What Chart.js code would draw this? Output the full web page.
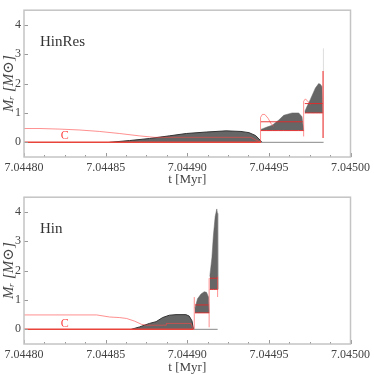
<!DOCTYPE html>
<html><head><meta charset="utf-8">
<script src="https://cdn.jsdelivr.net/npm/chart.js@4/dist/chart.umd.min.js"></script>
<style>html,body{margin:0;padding:0;background:#fff;overflow:hidden}canvas{display:block}</style>
</head><body>
<canvas id="c1" width="374" height="187"></canvas>
<canvas id="c2" width="374" height="188"></canvas>
<script>
// ---- axes ----
const xTicks = [7.04480, 7.04485, 7.04490, 7.04495, 7.04500];
const yTicks = [0, 1, 2, 3, 4];
const panelNames = ['HinRes', 'Hin'];
const zoneLabel = 'C';

// ---- top panel (HinRes) ----
const resCT = [7.0448000, 7.0448098, 7.0448220, 7.0448341, 7.0448463, 7.0448585, 7.0448707, 7.0448799, 7.0448900, 7.0448994, 7.0449200, 7.0449390, 7.0449420, 7.0449451];
const resCM = [0.47, 0.47, 0.45, 0.42, 0.37, 0.30, 0.22, 0.17, 0.17, 0.17, 0.17, 0.17, 0.08, 0.0];
const resBaseT = [7.0448000, 7.0449451];
const resBaseM = [0, 0];
const resTailT = [7.0449451, 7.0449835];
const resTailM = [0, 0];
const resZ1T = [7.0448524, 7.0448646, 7.0448768, 7.0448890, 7.0448994, 7.0449116, 7.0449238, 7.0449329, 7.0449378, 7.0449419, 7.0449449, 7.0449457];
const resZ1Top = [0, 0.06, 0.13, 0.22, 0.30, 0.35, 0.39, 0.37, 0.33, 0.23, 0.06, 0];
const resZ2T = [7.0449451, 7.0449488, 7.0449520, 7.0449561, 7.0449591, 7.0449642, 7.0449683, 7.0449703, 7.0449713];
const resZ2Top = [0.44, 0.52, 0.58, 0.76, 0.92, 1.0, 1.0, 0.87, 0.40];
const resZ2Bot = [0.40, 0.40, 0.40, 0.40, 0.40, 0.40, 0.40, 0.40, 0.40];
const resZ2MidT = [7.0449451, 7.0449707];
const resZ2MidM = [0.70, 0.70];
const resBump2T = [7.0449449, 7.0449449, 7.0449460, 7.0449475, 7.0449495, 7.0449515, 7.0449530];
const resBump2M = [0, 0.85, 0.95, 0.95, 0.82, 0.62, 0.55];
const resBump3T = [7.0449713, 7.0449713, 7.0449724, 7.0449744, 7.0449756];
const resBump3M = [0.2, 1.40, 1.48, 1.36, 1.30];
const resZ3T = [7.0449720, 7.0449732, 7.0449754, 7.0449785, 7.0449805, 7.0449815, 7.0449825, 7.0449829];
const resZ3Top = [1.05, 1.2, 1.46, 1.85, 2.0, 1.98, 1.9, 1.0];
const resZ3Bot = [1.0, 1.0, 1.0, 1.0, 1.0, 1.0, 1.0, 1.0];
const resZ3MidT = [7.0449720, 7.0449829];
const resZ3MidM = [1.32, 1.32];
const resEdgeT = [7.0449832, 7.0449832];
const resEdgeM = [0.15, 2.43];
const resFaintT = [7.0449834, 7.0449834];
const resFaintM = [2.43, 3.2];

// ---- bottom panel (Hin) ----
const hinCT = [7.0448000, 7.0448445, 7.0448524, 7.0448585, 7.0448628, 7.0448677, 7.0448720, 7.0448750, 7.0448872, 7.0448872, 7.0449024, 7.0449037];
const hinCM = [0.49, 0.49, 0.42, 0.40, 0.37, 0.28, 0.17, 0.14, 0.14, 0.20, 0.20, 0];
const hinBaseT = [7.0448000, 7.0449038];
const hinBaseM = [0, 0];
const hinTailT = [7.0449038, 7.0449186];
const hinTailM = [0, 0];
const hinZ1T = [7.0448657, 7.0448707, 7.0448768, 7.0448809, 7.0448849, 7.0448890, 7.0448931, 7.0448992, 7.0449012, 7.0449029, 7.0449038];
const hinZ1Top = [0, 0.08, 0.20, 0.26, 0.40, 0.48, 0.50, 0.50, 0.45, 0.29, 0];
const hinZ2T = [7.0449047, 7.0449063, 7.0449084, 7.0449104, 7.0449118, 7.0449130, 7.0449134];
const hinZ2Top = [0.72, 1.04, 1.20, 1.28, 1.26, 1.10, 0.56];
const hinZ2Bot = [0.56, 0.56, 0.56, 0.56, 0.56, 0.56, 0.56];
const hinZ2MidT = [7.0449047, 7.0449130];
const hinZ2MidM = [0.83, 0.83];
const hinRise2T = [7.0449043, 7.0449043];
const hinRise2M = [0, 1.1];
const hinRise3T = [7.0449134, 7.0449134];
const hinRise3M = [0.07, 1.74];
const hinZ3T = [7.0449138, 7.0449151, 7.0449160, 7.0449171, 7.0449181, 7.0449185, 7.0449187];
const hinZ3Top = [1.80, 2.44, 3.19, 3.84, 4.10, 3.95, 1.36];
const hinZ3Bot = [1.36, 1.36, 1.36, 1.36, 1.36, 1.36, 1.36];
const hinZ3MidT = [7.0449138, 7.0449185];
const hinZ3MidM = [1.74, 1.74];
const hinEdgeT = [7.0449186, 7.0449186];
const hinEdgeM = [1.1, 1.8];

// ---- styling helpers ----
const RED = 'rgba(232,40,40,0.9)';
const PINK = 'rgba(255,70,70,0.6)';
const GRAY = '#666666';
const FONT = "'Liberation Serif', 'DejaVu Serif', serif";

function pts(t, m) { return t.map((v, i) => ({x: v, y: m[i]})); }
function line(t, m, color, width) {
  return {data: pts(t, m), showLine: true, borderColor: color, borderWidth: width, pointRadius: 0, fill: false};
}
function zone(t, m, target, border) {
  return {data: pts(t, m), showLine: true, borderColor: border || GRAY, borderWidth: border ? 1 : 0.5,
          backgroundColor: GRAY, pointRadius: 0, fill: target};
}
function hidden(t, m) {
  return {data: pts(t, m), showLine: true, borderWidth: 0, borderColor: 'rgba(0,0,0,0)', pointRadius: 0, fill: false};
}

const frame = {
  id: 'frame',
  afterDatasetsDraw(chart) {
    const {ctx, chartArea: a, scales: {x, y}} = chart;
    ctx.save();
    ctx.strokeStyle = '#999'; ctx.lineWidth = 1;
    xTicks.forEach(v => {
      const p = Math.round(x.getPixelForValue(v)) + 0.5;
      ctx.beginPath(); ctx.moveTo(p, a.bottom); ctx.lineTo(p, a.bottom - 4); ctx.stroke();
    });
    for (let i = 0; i < xTicks.length - 1; i++) {
      for (let k = 1; k < 4; k++) {
        const v = xTicks[i] + (xTicks[i + 1] - xTicks[i]) * k / 4;
        const p = Math.round(x.getPixelForValue(v)) + 0.5;
        ctx.beginPath(); ctx.moveTo(p, a.bottom); ctx.lineTo(p, a.bottom - 2); ctx.stroke();
      }
    }
    yTicks.forEach(v => {
      const p = Math.round(y.getPixelForValue(v)) + 0.5;
      ctx.beginPath(); ctx.moveTo(a.left, p); ctx.lineTo(a.left + 4, p); ctx.stroke();
    });
    ctx.strokeStyle = '#c4c4c4'; ctx.lineWidth = 1.5;
    ctx.strokeRect(a.left, a.top, a.right - a.left, a.bottom - a.top);
    const o = chart.options.plugins.panelText;
    ctx.fillStyle = '#333';
    ctx.font = '15px ' + FONT;
    ctx.textBaseline = 'middle'; ctx.textAlign = 'left';
    ctx.fillText(o.name, x.getPixelForValue(7.0448098), y.getPixelForValue(3.42));
    ctx.fillStyle = '#ff4040';
    ctx.font = '12px ' + FONT;
    ctx.textAlign = 'center';
    ctx.fillText(zoneLabel, x.getPixelForValue(7.044825), y.getPixelForValue(o.cy));
    ctx.restore();
  }
};

function makePanel(id, datasets, name, cy, xh) {
  return new Chart(document.getElementById(id), {
    type: 'scatter',
    data: {datasets},
    plugins: [frame],
    options: {
      responsive: false, animation: false,
      layout: {padding: {top: 2, right: 22, left: 0, bottom: 0}},
      plugins: {legend: {display: false}, tooltip: {enabled: false}, panelText: {name, cy}},
      scales: {
        x: {
          type: 'linear', min: 7.0448, max: 7.045,
          afterBuildTicks: s => { s.ticks = xTicks.map(v => ({value: v})); },
          afterFit: s => { s.height = xh; },
          grid: {display: false, drawTicks: false}, border: {display: false},
          ticks: {padding: 4, color: '#444', font: {family: FONT, size: 12}, maxRotation: 0,
                  callback: v => Number(v).toFixed(5)},
          title: {display: true, text: 't [Myr]', color: '#444', padding: 0, font: {family: FONT, size: 13}}
        },
        y: {
          type: 'linear', min: -0.5, max: 4.5,
          afterBuildTicks: s => { s.ticks = yTicks.map(v => ({value: v})); },
          afterFit: s => { s.width = 24; },
          grid: {display: false, drawTicks: false}, border: {display: false},
          ticks: {padding: 3, color: '#444', font: {family: FONT, size: 12}},
          title: {display: true, text: 'Mᵣ [M⊙]', color: '#444', padding: 0, font: {family: FONT, size: 15, style: 'italic'}}
        }
      }
    }
  });
}

makePanel('c1', [
  line(resCT, resCM, PINK, 1),
  line(resBaseT, resBaseM, '#e8443a', 1.5),
  line(resZ2MidT, resZ2MidM, RED, 1),
  line(resZ2T, resZ2Bot, RED, 1),
  line(resBump2T, resBump2M, PINK, 1),
  line(resZ3MidT, resZ3MidM, RED, 1),
  line(resZ3T, resZ3Bot, RED, 1),
  line(resBump3T, resBump3M, PINK, 1),
  line(resEdgeT, resEdgeM, RED, 1.2),
  line(resFaintT, resFaintM, '#dddddd', 1),
  line(resTailT, resTailM, '#888888', 1),
  zone(resZ1T, resZ1Top, 'origin', '#333333'),
  zone(resZ2T, resZ2Top, '+1'),
  hidden(resZ2T, resZ2Bot),
  zone(resZ3T, resZ3Top, '+1'),
  hidden(resZ3T, resZ3Bot)
], panelNames[0], 0.23, 30);

makePanel('c2', [
  line(hinCT, hinCM, PINK, 1),
  line(hinBaseT, hinBaseM, '#e8443a', 1.5),
  line(hinZ2MidT, hinZ2MidM, RED, 1),
  line(hinZ2T, hinZ2Bot, RED, 1),
  line(hinRise2T, hinRise2M, PINK, 1),
  line(hinRise3T, hinRise3M, PINK, 1),
  line(hinZ3MidT, hinZ3MidM, RED, 1),
  line(hinZ3T, hinZ3Bot, RED, 1),
  line(hinEdgeT, hinEdgeM, PINK, 1),
  line(hinTailT, hinTailM, '#888888', 1),
  zone(hinZ1T, hinZ1Top, 'origin', '#333333'),
  zone(hinZ2T, hinZ2Top, '+1'),
  hidden(hinZ2T, hinZ2Bot),
  zone(hinZ3T, hinZ3Top, '+1'),
  hidden(hinZ3T, hinZ3Bot)
], panelNames[1], 0.17, 31);
</script>
</body></html>
